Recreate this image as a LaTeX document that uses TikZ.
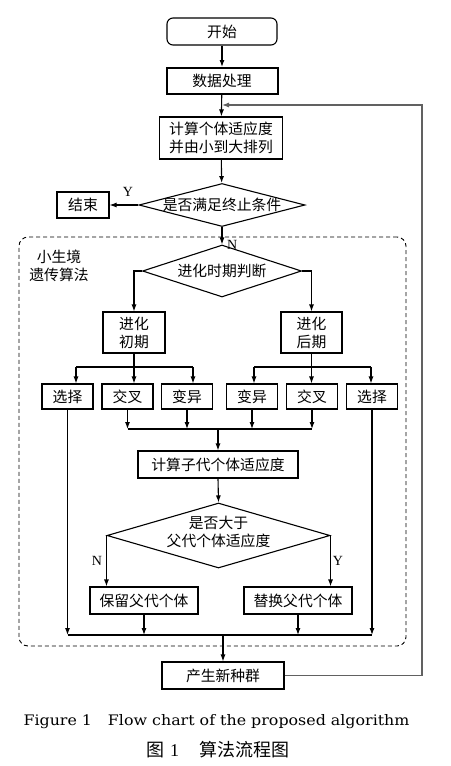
\documentclass[tikz,border=0pt]{standalone}
\usepackage{fontspec}
\setmainfont{Liberation Serif}
\newfontfamily\cjk{Noto Sans CJK SC}
\newfontfamily\capfont{DejaVu Serif}
\usetikzlibrary{arrows.meta,shapes.geometric}
\begin{document}
\begin{tikzpicture}[x=1pt,y=-1pt,
  box/.style={draw, line width=1.1pt, inner sep=0pt, font=\cjk\fontsize{14.8}{18}\selectfont, align=center},
  rowbox/.style={box, minimum width=51pt, minimum height=25pt},
  dia/.style={draw, line width=1.1pt, shape=diamond, inner sep=0pt},
  txt/.style={inner sep=0pt, font=\cjk\fontsize{14.8}{18}\selectfont, align=center},
  lat/.style={inner sep=0pt, font=\fontsize{14}{16}\selectfont},
  arr/.style={-{Latex[length=7pt,width=5pt]}, line width=1.1pt},
  ln/.style={line width=1.1pt},
  fbline/.style={arr, draw=black!62}]
\useasboundingbox (0,0) rectangle (450,766);

% top part
\node[box, rounded corners=6pt, minimum width=110pt, minimum height=27pt] (start) at (222,31.5) {开始};
\node[box, line width=2pt, minimum width=111pt, minimum height=26pt] (proc) at (222,81) {数据处理};
\node[box, minimum width=123pt, minimum height=42pt] (fit) at (221,138) {计算个体适应度\\并由小到大排列};
\node[dia, minimum width=166pt, minimum height=43pt] (d1) at (222,205) {};
\node[txt] (d1t) at (d1) {是否满足终止条件};
\node[box, minimum width=52pt, minimum height=26pt] (end) at (83,205) {结束};
\draw[arr] (start) -- (proc);
\draw[arr] (proc) -- (fit);
\draw[arr] (fit) -- (d1);
\draw[arr] (d1.west) -- (end.east);
\node[lat] (ylab1) at (128,192) {Y};

% niche GA frame
\node[draw, dash pattern=on 4pt off 3pt, line width=0.9pt, rounded corners=9pt, minimum width=387pt, minimum height=409pt, inner sep=0pt] (niche) at (212.5,441.5) {};
\node[txt] (nlab) at (59,266) {小生境\\遗传算法};

\node[dia, minimum width=159pt, minimum height=52pt] (d2) at (222,271) {};
\node[txt] (d2t) at (d2) {进化时期判断};
\draw[arr] (d1.south) -- (d2.north);
\node[lat, anchor=west] (nlab1) at (227,245) {N};

\node[box, minimum width=62pt, minimum height=41pt] (early) at (134,332.5) {进化\\初期};
\node[box, minimum width=61pt, minimum height=41pt] (late) at (311.5,332.5) {进化\\后期};
\draw[arr] (d2.west) -| (early.north);
\draw[arr] (d2.east) -| (late.north);

\node[rowbox] (selL) at (67.5,396.5) {选择};
\node[rowbox] (croL) at (127.5,396.5) {交叉};
\node[rowbox] (mutL) at (187,396.5) {变异};
\node[rowbox] (mutR) at (252,396.5) {变异};
\node[rowbox] (croR) at (312,396.5) {交叉};
\node[rowbox] (selR) at (372,396.5) {选择};

\coordinate (bL1) at (76,367);
\coordinate (bL3) at (193,367);
\coordinate (bR1) at (254,367);
\coordinate (bR3) at (371,367);
\draw[ln] (bL1) -- (bL3);
\draw[ln] (bR1) -- (bR3);
\draw[arr] (early.south) -- (early.south |- croL.north);
\draw[arr] (bL1) -- (bL1 |- selL.north);
\draw[arr] (bL3) -- (bL3 |- mutL.north);
\draw[arr] (late.south) -- (late.south |- croR.north);
\draw[arr] (bR1) -- (bR1 |- mutR.north);
\draw[arr] (bR3) -- (bR3 |- selR.north);

% first merge
\coordinate (m1L) at (127.5,429);
\coordinate (m1R) at (312,429);
\draw[ln] (m1L) -- (m1R);
\draw[arr] (croL.south) -- (croL.south |- m1L);
\draw[arr] (mutL.south) -- (mutL.south |- m1L);
\draw[arr] (mutR.south) -- (mutR.south |- m1L);
\draw[arr] (croR.south) -- (croR.south |- m1L);

\node[box, minimum width=160pt, minimum height=27pt] (child) at (218,464.5) {计算子代个体适应度};
\draw[arr] (child.north |- m1L) -- (child.north);

\node[dia, minimum width=223pt, minimum height=65pt] (d3) at (218.5,535.5) {};
\node[txt] (d3t) at (218.5,532) {是否大于\\父代个体适应度};
\draw[arr] (child.south) -- (d3.north);

\node[box, minimum width=108pt, minimum height=27pt] (keep) at (144,600.5) {保留父代个体};
\node[box, minimum width=108pt, minimum height=27pt] (repl) at (298,600.5) {替换父代个体};
\draw[arr] (d3.west) -- (d3.west |- keep.north);
\draw[arr] (d3.east) -- (d3.east |- repl.north);
\node[lat] (nlab2) at (97,561) {N};
\node[lat] (ylab2) at (338,561) {Y};

% second merge
\coordinate (m2L) at (67.5,635);
\coordinate (m2R) at (372,635);
\draw[ln] (m2L) -- (m2R);
\draw[arr] (selL.south) -- (selL.south |- m2L);
\draw[arr] (keep.south) -- (keep.south |- m2L);
\draw[arr] (repl.south) -- (repl.south |- m2L);
\draw[arr] (selR.south) -- (selR.south |- m2L);

\node[box, minimum width=122pt, minimum height=27pt] (new) at (223,675.5) {产生新种群};
\draw[arr] (new.north |- m2L) -- (new.north);

% feedback loop
\coordinate (fbc) at (422,105);
\coordinate (fbin) at (222,105);
\draw[fbline] (new.east) -- (new.east -| fbc) -- (fbc) -- (fbin);

% caption
\node[inner sep=0pt, font=\capfont\fontsize{14.5}{16}\selectfont] (cap1) at (216.5,722) {\scalebox{1.094}[1]{Figure 1\quad Flow chart of the proposed algorithm}};
\node[inner sep=0pt, font=\cjk\fontsize{18}{20}\selectfont] (cap2) at (217.5,750) {图\hspace{6pt}{\rmfamily 1}\hspace{20pt}算法流程图};
\end{tikzpicture}
\end{document}
